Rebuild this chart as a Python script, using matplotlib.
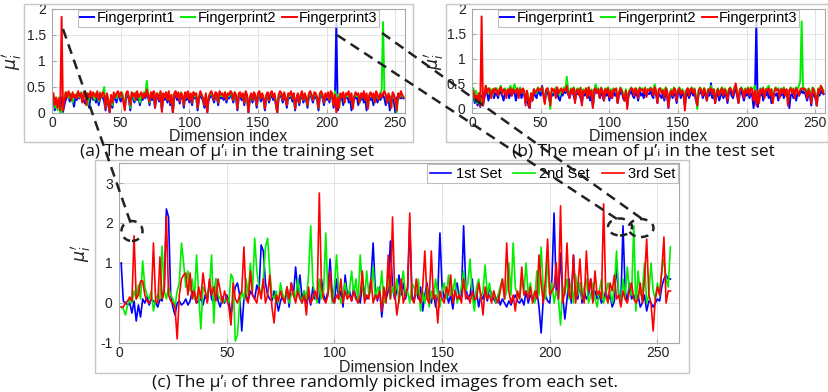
import matplotlib
matplotlib.use("Agg")
import matplotlib.pyplot as plt
import numpy as np
from matplotlib.lines import Line2D
from matplotlib.patches import Rectangle, Ellipse

# ---------------- data ----------------
train_fp1 = [0.30,0.05,0.20,0.12,0.25,0.08,0.30,0.02,0.15,0.25,0.35,0.30,0.22,0.35,0.28,0.12,
0.30,0.25,0.32,0.28,0.35,0.30,0.25,0.18,0.32,0.30,0.10,0.28,0.35,0.25,0.30,0.20,
0.32,0.15,0.28,0.35,0.30,0.22,0.05,0.30,0.15,0.00,0.25,0.10,0.30,0.28,0.20,0.35,
0.30,0.22,0.35,0.25,0.10,0.30,0.35,0.25,0.05,0.28,0.32,0.20,0.35,0.25,0.30,0.15,
0.30,0.25,0.35,0.28,0.40,0.30,0.15,0.32,0.25,0.35,0.10,0.28,0.30,0.22,0.35,0.05,
0.30,0.25,0.32,0.20,0.35,0.15,0.28,0.00,0.30,0.35,0.25,0.30,0.18,0.35,0.28,0.10,
0.32,0.25,0.35,0.20,0.30,0.15,0.35,0.28,0.30,0.05,0.25,0.35,0.30,0.22,0.10,0.30,
0.00,0.25,0.30,0.35,0.28,0.20,0.32,0.30,0.15,0.35,0.28,0.30,0.25,0.35,0.20,0.30,
0.28,0.35,0.30,0.20,0.35,0.28,0.05,0.30,0.32,0.25,0.30,0.15,0.35,0.28,0.00,0.25,
0.30,0.20,0.32,0.28,0.10,0.30,0.35,0.22,0.30,0.25,0.05,0.28,0.32,0.20,0.30,0.35,
0.25,0.30,0.15,0.00,0.28,0.35,0.30,0.20,0.32,0.25,0.10,0.30,0.28,0.35,0.22,0.30,
0.05,0.25,0.30,0.15,0.28,0.35,0.20,0.30,0.25,0.10,0.30,0.35,0.28,0.20,0.32,0.30,
0.25,0.05,0.30,0.35,0.28,0.15,0.30,0.25,0.32,0.20,0.35,0.30,0.10,0.28,1.72,0.05,
0.30,0.25,0.32,0.15,0.30,0.28,0.35,0.20,0.30,0.05,0.25,0.32,0.28,0.30,0.15,0.30,
0.25,0.35,0.20,0.30,0.05,0.28,0.32,0.25,0.30,0.15,0.35,0.28,0.20,0.30,0.25,0.30,
0.35,0.28,0.15,0.30,0.25,0.05,0.32,0.28,0.20,0.00,0.30,0.25,0.35,0.28,0.30,0.28]

train_fp2 = [0.35,0.10,0.25,0.05,0.30,0.00,0.02,0.20,0.30,0.40,0.35,0.28,0.38,0.32,0.20,0.35,
0.30,0.38,0.35,0.30,0.40,0.25,0.35,0.30,0.38,0.15,0.32,0.40,0.30,0.35,0.25,0.38,
0.35,0.22,0.40,0.30,0.38,0.50,0.10,0.35,0.20,0.05,0.30,0.15,0.35,0.32,0.28,0.40,
0.35,0.30,0.40,0.28,0.15,0.35,0.40,0.30,0.10,0.35,0.38,0.25,0.40,0.30,0.35,0.20,
0.35,0.30,0.40,0.35,0.62,0.35,0.20,0.38,0.30,0.40,0.15,0.35,0.38,0.28,0.40,0.10,
0.35,0.30,0.38,0.25,0.40,0.20,0.35,0.05,0.35,0.40,0.30,0.38,0.25,0.40,0.32,0.15,
0.38,0.30,0.40,0.28,0.35,0.20,0.40,0.32,0.35,0.10,0.30,0.40,0.35,0.28,0.15,0.35,
0.05,0.30,0.35,0.40,0.32,0.25,0.38,0.35,0.20,0.40,0.32,0.35,0.30,0.40,0.25,0.35,
0.32,0.42,0.35,0.25,0.40,0.32,0.10,0.35,0.38,0.30,0.35,0.20,0.40,0.32,0.05,0.30,
0.35,0.25,0.38,0.32,0.15,0.35,0.40,0.28,0.35,0.30,0.10,0.32,0.38,0.25,0.35,0.40,
0.30,0.35,0.20,0.02,0.32,0.40,0.35,0.25,0.38,0.30,0.15,0.35,0.32,0.40,0.28,0.35,
0.10,0.30,0.35,0.20,0.32,0.40,0.25,0.35,0.30,0.15,0.35,0.40,0.32,0.25,0.38,0.35,
0.30,0.10,0.35,0.40,0.32,0.20,0.35,0.30,0.38,0.25,0.40,0.35,0.15,0.42,0.10,0.35,
0.10,0.35,0.30,0.38,0.20,0.35,0.32,0.40,0.25,0.35,0.10,0.30,0.38,0.32,0.35,0.20,
0.35,0.30,0.40,0.25,0.35,0.10,0.32,0.38,0.30,0.35,0.20,0.40,0.32,0.25,0.35,0.45,
1.75,0.40,0.35,0.20,0.35,0.30,0.10,0.38,0.32,0.25,0.02,0.35,0.30,0.40,0.32,0.30]

train_fp3 = [0.38,0.15,0.30,0.10,0.28,0.05,1.85,0.05,0.22,0.40,0.30,0.42,0.35,0.25,0.40,0.30,
0.35,0.28,0.42,0.32,0.38,0.20,0.40,0.35,0.15,0.38,0.30,0.42,0.28,0.40,0.35,0.30,
0.42,0.25,0.38,0.30,0.40,0.35,0.08,0.38,0.25,0.02,0.35,0.20,0.40,0.30,0.38,0.42,
0.30,0.40,0.35,0.20,0.05,0.38,0.42,0.30,0.15,0.40,0.32,0.38,0.25,0.42,0.30,0.35,
0.40,0.28,0.38,0.30,0.45,0.35,0.22,0.40,0.30,0.42,0.10,0.38,0.35,0.25,0.42,0.02,
0.38,0.30,0.40,0.25,0.42,0.20,0.35,0.00,0.38,0.42,0.30,0.40,0.22,0.38,0.35,0.15,
0.40,0.30,0.42,0.25,0.38,0.20,0.40,0.35,0.38,0.10,0.30,0.42,0.35,0.28,0.15,0.38,
0.00,0.30,0.38,0.42,0.35,0.25,0.40,0.38,0.20,0.42,0.35,0.38,0.30,0.40,0.25,0.38,
0.35,0.42,0.38,0.25,0.40,0.35,0.08,0.38,0.40,0.30,0.38,0.20,0.42,0.35,0.02,0.30,
0.38,0.25,0.40,0.35,0.15,0.38,0.42,0.28,0.38,0.30,0.08,0.35,0.40,0.25,0.38,0.42,
0.30,0.38,0.20,0.00,0.35,0.42,0.38,0.25,0.40,0.30,0.15,0.38,0.35,0.42,0.28,0.38,
0.08,0.30,0.38,0.20,0.35,0.42,0.25,0.38,0.30,0.15,0.38,0.42,0.35,0.25,0.40,0.38,
0.30,0.10,0.38,0.42,0.35,0.20,0.38,0.30,0.40,0.25,0.42,0.38,0.15,0.35,0.00,0.30,
0.10,0.38,0.30,0.40,0.20,0.38,0.35,0.42,0.25,0.38,0.08,0.30,0.40,0.35,0.38,0.20,
0.38,0.30,0.42,0.25,0.38,0.08,0.35,0.40,0.30,0.38,0.20,0.42,0.35,0.25,0.38,0.30,
0.38,0.42,0.35,0.20,0.38,0.30,0.10,0.40,0.35,0.25,0.05,0.38,0.30,0.42,0.35,0.30]

test_fp1 = [0.25,0.10,0.30,0.05,0.20,0.02,0.25,0.05,0.20,0.35,0.30,0.15,0.30,0.25,0.35,0.20,
0.30,0.28,0.20,0.35,0.30,0.25,0.15,0.30,0.28,0.35,0.20,0.30,0.25,0.35,0.30,0.15,
0.30,0.25,0.35,0.20,0.30,0.28,0.10,0.30,0.05,0.00,0.25,0.15,0.30,0.25,0.20,0.35,
0.30,0.25,0.45,0.30,0.15,0.30,0.35,0.20,0.10,0.30,0.25,0.35,0.28,0.30,0.20,0.15,
0.30,0.25,0.35,0.30,0.40,0.28,0.20,0.30,0.35,0.25,0.15,0.30,0.28,0.35,0.20,0.10,
0.30,0.25,0.35,0.20,0.30,0.15,0.28,0.02,0.25,0.45,0.30,0.35,0.20,0.30,0.25,0.15,
0.30,0.25,0.35,0.15,0.30,0.20,0.35,0.25,0.30,0.10,0.25,0.30,0.35,0.20,0.15,0.30,
0.05,0.25,0.30,0.35,0.25,0.20,0.30,0.28,0.15,0.35,0.25,0.30,0.20,0.35,0.25,0.30,
0.28,0.35,0.25,0.20,0.45,0.28,0.10,0.30,0.25,0.20,0.30,0.15,0.30,0.25,0.00,0.25,
0.30,0.20,0.30,0.25,0.10,0.30,0.35,0.20,0.30,0.25,0.05,0.25,0.30,0.20,0.28,0.35,
0.25,0.30,0.15,0.05,0.28,0.30,0.35,0.20,0.30,0.25,0.15,0.30,0.25,0.50,0.20,0.30,
0.10,0.25,0.30,0.15,0.25,0.30,0.20,0.28,0.25,0.10,0.30,0.35,0.25,0.20,0.30,0.45,
0.25,0.10,0.30,0.35,0.25,0.15,0.30,0.25,0.35,0.20,0.30,0.25,0.00,0.25,1.72,0.02,
0.30,0.25,0.35,0.15,0.30,0.25,0.35,0.20,0.30,0.10,0.25,0.30,0.25,0.30,0.15,0.30,
0.25,0.35,0.20,0.30,0.25,0.30,0.00,0.25,0.30,0.20,0.25,0.15,0.30,0.25,0.30,0.35,
0.30,0.35,0.25,0.15,0.30,0.25,0.05,0.30,0.25,0.20,0.05,0.30,0.25,0.35,0.30,0.28]

test_fp2 = [0.40,0.15,0.35,0.10,0.30,0.05,0.20,0.10,0.30,0.45,0.35,0.30,0.40,0.35,0.25,0.40,
0.35,0.40,0.30,0.38,0.45,0.30,0.35,0.40,0.35,0.30,0.38,0.45,0.35,0.40,0.48,0.35,
0.40,0.30,0.42,0.35,0.38,0.30,0.15,0.35,0.20,0.05,0.30,0.20,0.38,0.35,0.30,0.42,
0.38,0.35,0.42,0.30,0.10,0.35,0.40,0.30,-0.02,0.35,0.38,0.30,0.42,0.35,0.38,0.25,
0.38,0.35,0.42,0.35,0.63,0.38,0.25,0.40,0.35,0.42,0.20,0.38,0.40,0.30,0.42,0.15,
0.38,0.32,0.40,0.30,0.42,0.25,0.38,0.05,0.35,0.48,0.35,0.40,0.30,0.42,0.35,0.20,
0.40,0.35,0.42,0.30,0.38,0.25,0.40,0.35,0.38,0.15,0.32,0.42,0.38,0.30,0.20,0.38,
0.05,0.32,0.38,0.42,0.35,0.30,0.40,0.38,0.25,0.42,0.38,0.40,0.35,0.42,0.30,0.38,
0.35,0.42,0.38,0.30,0.48,0.35,0.15,0.38,0.40,0.35,0.38,0.25,0.42,0.38,0.05,0.30,
0.38,0.30,0.42,0.35,0.20,0.38,0.42,0.30,0.38,0.35,0.10,0.35,0.40,0.30,0.38,0.42,
0.35,0.40,0.25,-0.02,0.35,0.42,0.38,0.30,0.40,0.35,0.20,0.38,0.35,0.45,0.30,0.38,
0.15,0.35,0.40,0.25,0.38,0.42,0.30,0.40,0.35,0.20,0.38,0.42,0.35,0.30,0.40,0.45,
0.35,0.15,0.38,0.42,0.38,0.25,0.40,0.35,0.42,0.30,0.42,0.38,0.40,0.45,0.10,0.30,
0.15,0.40,0.35,0.42,0.25,0.38,0.40,0.45,0.30,0.38,0.15,0.35,0.42,0.38,0.40,0.25,
0.40,0.35,0.42,0.30,0.38,0.10,0.35,0.42,0.35,0.40,0.25,0.42,0.38,0.45,0.55,1.75,
0.40,0.35,0.38,0.25,0.40,0.35,0.15,0.42,0.38,0.30,0.05,0.40,0.35,0.45,0.40,0.35]

test_fp3 = [0.35,0.20,0.25,0.15,0.30,0.05,1.85,0.05,0.25,0.45,0.30,0.40,0.35,0.20,0.38,0.30,
0.40,0.35,0.25,0.38,0.42,0.28,0.38,0.35,0.20,0.38,0.30,0.40,0.25,0.38,0.35,0.30,
0.40,0.20,0.38,0.30,0.40,0.35,0.05,0.35,0.20,0.00,0.30,0.15,0.38,0.30,0.35,0.40,
0.35,0.38,0.42,0.25,0.08,0.38,0.40,0.30,0.05,0.40,0.35,0.38,0.20,0.42,0.30,0.35,
0.40,0.30,0.38,0.35,0.45,0.30,0.20,0.38,0.30,0.40,0.10,0.35,0.38,0.25,0.40,0.05,
0.35,0.30,0.40,0.20,0.42,0.25,0.35,0.00,0.38,0.40,0.30,0.38,0.20,0.40,0.35,0.15,
0.38,0.30,0.40,0.22,0.35,0.20,0.38,0.35,0.40,0.10,0.30,0.40,0.35,0.25,0.15,0.35,
-0.02,0.30,0.35,0.40,0.38,0.25,0.40,0.35,0.20,0.40,0.35,0.38,0.30,0.40,0.22,0.38,
0.35,0.40,0.38,0.25,0.42,0.35,0.10,0.38,0.40,0.30,0.35,0.20,0.40,0.35,0.02,0.30,
0.35,0.25,0.40,0.38,0.15,0.35,0.40,0.28,0.35,0.30,-0.05,0.35,0.40,0.25,0.38,0.40,
0.30,0.38,0.20,0.05,0.35,0.40,0.35,0.25,0.40,0.30,0.15,0.38,0.35,0.40,0.28,0.38,
0.10,0.30,0.38,0.25,0.35,0.40,0.25,0.38,0.30,0.15,0.38,0.40,0.35,0.25,0.40,0.50,
0.30,0.10,0.38,0.40,0.35,0.20,0.38,0.30,0.40,0.25,0.40,0.38,0.15,0.35,0.05,0.35,
0.10,0.38,0.30,0.40,0.20,0.38,0.35,0.40,0.25,0.38,0.10,0.30,0.40,0.35,0.38,0.20,
0.38,0.30,0.40,0.25,0.38,0.05,0.35,0.40,0.30,0.38,0.20,0.40,0.35,0.25,0.38,0.40,
0.38,0.40,0.35,0.20,0.38,0.30,0.10,0.40,0.35,0.25,0.05,0.38,0.30,0.45,0.38,0.30]

set1 = [1.00,0.05,0.00,-0.05,0.00,-0.25,0.05,-0.45,-0.05,-0.35,0.10,0.00,0.15,-0.05,0.10,0.05,
0.00,-0.10,0.10,0.05,0.40,2.35,2.15,0.20,-0.10,-0.30,0.00,0.05,-0.05,0.00,0.10,-0.05,
0.05,0.30,0.15,0.00,0.05,0.10,-0.05,0.20,0.05,0.55,0.10,0.00,0.60,0.05,-0.10,0.15,
0.00,0.20,0.05,-0.30,0.10,0.40,0.50,0.20,-0.70,0.10,0.20,0.05,0.30,0.20,0.10,0.45,
0.30,1.45,1.30,0.50,0.20,0.10,0.05,0.30,0.10,-0.20,0.05,0.20,0.00,0.40,-0.10,0.50,
0.20,0.90,0.30,0.70,0.10,0.30,0.00,0.20,-0.05,0.40,0.10,0.20,0.00,0.60,0.20,0.05,
0.30,1.10,0.20,0.00,0.60,0.10,0.30,-0.10,0.70,0.20,0.30,0.05,0.40,0.10,0.20,0.00,
0.50,0.30,0.10,0.20,0.60,1.50,0.30,0.05,0.40,-0.35,0.20,0.10,0.30,1.55,0.40,0.10,
0.30,0.70,0.20,0.50,0.10,0.35,2.00,0.20,0.05,0.30,0.10,0.40,-0.20,0.20,0.50,0.10,
0.00,0.30,-0.10,0.20,1.75,0.40,0.10,0.30,0.00,0.20,-0.15,0.30,0.50,0.10,0.20,1.93,
0.40,0.10,0.20,0.60,0.00,0.30,-0.10,0.20,0.10,0.30,0.05,0.40,0.20,0.10,0.00,0.20,
-0.05,0.10,0.00,-0.10,0.05,-0.05,0.10,0.20,0.05,0.00,0.10,-0.05,0.30,0.00,0.20,0.10,
0.05,0.30,-0.10,-0.75,0.10,0.20,0.05,0.00,0.60,2.25,0.30,0.10,1.25,0.20,-0.40,0.10,
0.60,0.00,1.20,0.20,0.10,0.50,0.00,0.30,0.10,0.20,0.60,0.05,0.30,0.10,0.20,0.00,
0.10,0.30,0.05,0.20,-0.10,0.05,1.00,0.20,0.00,1.93,0.30,0.05,0.50,0.10,0.20,0.05,
0.20,-0.10,0.00,0.20,-0.20,0.05,0.00,-0.10,0.00,0.10,0.05,0.40,0.60,0.70,0.60,0.60]

set2 = [-0.10,-0.15,-0.30,-0.05,0.10,0.00,0.30,0.10,0.45,0.10,1.05,0.40,0.20,0.10,0.30,-0.20,
0.10,0.20,0.10,1.42,0.30,0.10,0.40,0.20,0.10,-0.10,0.30,0.50,1.50,1.00,0.40,0.80,
0.30,0.60,0.10,1.20,0.20,-0.65,0.40,0.30,0.10,0.40,1.20,-0.50,0.60,0.20,0.10,0.00,
0.05,0.10,0.00,0.72,0.60,-0.95,-0.80,0.00,0.30,0.10,0.60,0.20,1.00,0.30,1.62,0.80,
0.40,0.20,0.60,1.40,1.62,0.80,0.20,0.10,0.30,0.00,0.50,0.20,0.10,0.40,0.00,0.20,
0.30,0.10,0.60,0.20,0.00,0.30,0.10,0.70,1.93,0.50,0.20,0.00,0.60,0.10,0.30,1.75,
0.20,0.60,0.00,0.40,1.20,0.30,0.00,0.20,0.50,0.10,0.30,0.80,0.20,0.60,0.00,1.20,
0.40,0.10,0.80,0.20,0.30,0.90,0.10,0.40,0.20,0.80,0.00,0.30,0.60,0.10,0.40,0.20,
0.60,0.00,0.40,0.80,0.20,0.30,0.00,0.50,0.40,0.20,0.60,-0.20,0.30,0.00,0.40,-0.10,
0.30,0.10,0.60,0.20,-0.10,0.30,0.50,0.10,0.70,0.20,0.30,0.60,0.00,0.20,0.40,0.80,
0.30,0.50,1.10,0.20,-0.20,0.40,0.60,0.10,0.30,0.95,0.20,0.50,0.10,0.30,0.00,0.20,
0.40,0.60,0.10,0.30,1.00,0.20,1.50,0.40,0.20,0.10,0.60,0.30,1.00,0.20,0.50,0.10,
0.00,0.80,0.20,1.40,0.30,0.10,1.10,0.20,0.50,0.00,0.30,0.10,-0.55,0.40,0.20,0.60,
0.10,0.50,0.00,0.70,0.20,0.50,0.10,0.40,0.60,0.00,0.20,0.50,0.10,-0.10,0.30,0.60,
0.00,0.20,0.50,0.30,0.00,0.40,1.30,0.20,0.00,0.60,0.10,0.90,0.30,0.20,1.93,-0.20,
0.80,0.20,0.30,1.00,0.00,0.20,1.00,0.30,0.10,0.50,0.20,0.80,1.10,0.60,0.40,1.40]

set3 = [-0.10,-0.10,0.00,0.05,0.15,0.05,1.68,0.10,0.20,0.55,0.55,0.20,0.05,0.00,0.10,1.50,
0.05,0.00,1.15,0.10,0.30,2.17,0.20,0.05,0.00,-0.10,-0.90,0.20,0.60,0.70,0.75,0.20,
0.75,0.10,0.30,0.00,0.40,0.10,0.75,0.30,0.00,0.60,0.20,0.40,0.05,0.60,0.30,0.00,
0.30,0.10,-0.10,-0.55,0.50,0.10,0.00,0.20,0.30,1.40,0.10,0.00,0.80,0.20,0.10,0.00,
0.40,0.10,0.60,0.00,0.20,0.70,-0.10,-0.50,0.20,0.05,0.30,0.10,0.00,0.40,0.10,0.50,
0.20,0.00,0.30,0.10,0.00,0.20,-0.30,0.40,0.00,0.10,0.30,0.10,2.75,0.40,0.10,0.00,
0.20,0.80,0.10,0.00,0.20,0.10,0.60,0.00,0.30,0.10,0.20,0.05,0.30,0.10,0.00,0.20,
0.80,0.00,0.20,0.10,0.60,0.00,0.20,0.10,0.30,-0.20,0.40,0.00,1.20,0.10,2.15,0.30,
-0.30,0.10,0.60,0.00,0.20,0.40,2.25,0.10,0.00,0.60,0.20,0.00,0.40,1.30,0.10,0.00,
1.30,0.10,0.20,-0.50,0.30,0.10,0.00,0.40,0.20,0.70,0.00,0.30,0.10,0.20,0.00,0.60,
0.10,0.20,0.00,0.30,0.10,0.10,0.50,0.20,-0.30,0.40,0.10,0.20,0.00,0.30,0.10,0.00,
0.30,0.60,0.10,1.50,0.30,0.00,0.20,-0.20,0.30,0.10,0.90,0.20,0.30,0.10,0.40,0.00,
0.30,0.10,1.20,0.50,0.00,0.60,1.60,0.20,0.30,0.40,1.00,0.10,2.43,0.00,0.30,1.50,
0.20,0.10,1.20,0.00,0.40,1.10,0.20,0.00,1.30,0.30,0.60,0.00,0.80,0.20,0.30,0.10,
2.48,0.20,0.00,0.50,0.30,0.70,0.10,0.20,-0.10,0.30,0.10,0.00,0.30,0.50,0.10,0.00,
0.10,0.50,0.00,0.60,1.60,0.20,0.00,-0.70,0.10,0.40,0.20,0.80,1.65,0.00,0.30,0.30]

fp_labels = ["Fingerprint1", "Fingerprint2", "Fingerprint3"]
set_labels = ["1st Set", "2nd Set", "3rd Set"]
colors = ["#0000ff", "#00ee00", "#ff0000"]
xticks = [0, 50, 100, 150, 200, 250]

# ---------------- figure ----------------
plt.rcParams["font.family"] = ["Liberation Sans", "DejaVu Sans"]
plt.rcParams["axes.unicode_minus"] = False
W, H = 829, 392
fig = plt.figure(figsize=(W / 100, H / 100), dpi=100)
CAP_FONT = ["Open Sans", "DejaVu Sans"]
TXT = "#222222"


def px_rect(l, t, r, b):
    return [l / W, 1 - b / H, (r - l) / W, (b - t) / H]


def fx(x):
    return x / W


def fy(y):
    return 1 - y / H


def style_axes(ax):
    ax.grid(True, color="#e3e3e3", linewidth=0.7)
    ax.set_axisbelow(True)
    for s in ax.spines.values():
        s.set_color("#a8a8a8")
        s.set_linewidth(0.8)
    ax.tick_params(direction="in", length=3, color="#a8a8a8", labelsize=10,
                   labelcolor=TXT)
    ax.tick_params(axis="x", pad=2)
    ax.tick_params(axis="y", pad=4.5)


# frames (image borders)
for (l, t, r, b) in [(24, 4, 413, 142), (446, 4, 828, 142), (95, 160, 689, 373)]:
    fig.add_artist(Rectangle((fx(l), fy(b)), (r - l) / W, (b - t) / H,
                             transform=fig.transFigure, fill=False,
                             edgecolor="#c6c6c6", linewidth=1.0))

panels = [
    (px_rect(52, 9, 405, 113), [train_fp1, train_fp2, train_fp3], (0, 2), -0.08),
    (px_rect(472, 9, 825, 113), [test_fp1, test_fp2, test_fp3], (-0.1, 2), -0.074),
]
for rect, series, ylim, ylab_x in panels:
    ax = fig.add_axes(rect)
    for ys, c, lab in zip(series, colors, fp_labels):
        x = np.arange(1, len(ys) + 1)
        ax.plot(x, ys, color=c, linewidth=1.4, label=lab)
    ax.set_xlim(0, 257)
    ax.set_ylim(*ylim)
    ax.set_xticks(xticks)
    ax.set_yticks([0, 0.5, 1, 1.5, 2])
    ax.set_yticklabels(["0", "0.5", "1", "1.5", "2"])
    style_axes(ax)
    ax.set_xlabel("Dimension index", fontsize=11.5, color=TXT)
    ax.xaxis.set_label_coords(0.5, -0.15)
    ax.set_ylabel(r"$\mu_i^{\prime}$", fontsize=12.5, color=TXT)
    ax.yaxis.set_label_coords(ylab_x, 0.5)
    leg = ax.legend(loc="upper center", ncol=3, frameon=True,
                    handlelength=1.0, handletextpad=0.15, columnspacing=0.4,
                    borderpad=0.1, borderaxespad=0.05, fancybox=False,
                    prop={"size": 10.5})
    leg.get_frame().set_edgecolor("#b0b0b0")
    leg.get_frame().set_linewidth(0.8)

axc = fig.add_axes(px_rect(119, 163, 679, 343))
for ys, c, lab in zip([set1, set2, set3], colors, set_labels):
    x = np.arange(1, len(ys) + 1)
    axc.plot(x, ys, color=c, linewidth=1.2, label=lab)
axc.set_xlim(0, 260)
axc.set_ylim(-1, 3.5)
axc.set_xticks(xticks)
axc.set_yticks([-1, 0, 1, 2, 3])
style_axes(axc)
axc.set_xlabel("Dimension Index", fontsize=11.5, color=TXT)
axc.xaxis.set_label_coords(0.5, -0.095)
axc.set_ylabel(r"$\mu_i^{\prime}$", fontsize=12.5, color=TXT)
axc.yaxis.set_label_coords(-0.047, 0.5)
legc = axc.legend(loc="upper right", ncol=3, frameon=True, handlelength=1.5,
                  handletextpad=0.3, columnspacing=0.8, borderpad=0.15,
                  borderaxespad=0.1, fancybox=False, prop={"size": 10.5})
legc.get_frame().set_edgecolor("#b0b0b0")
legc.get_frame().set_linewidth(0.8)

# captions
fig.text(fx(227), fy(152), "(a) The mean of μ’ᵢ in the training set", ha="center",
         va="center", fontsize=12.5, family=CAP_FONT, color="#111111")
fig.text(fx(643), fy(152), "(b) The mean of μ’ᵢ in the test set", ha="center",
         va="center", fontsize=12.5, family=CAP_FONT, color="#111111")
fig.text(fx(385), fy(383), "(c) The μ’ᵢ of three randomly picked images from each set.",
         ha="center", va="center", fontsize=12.5, family=CAP_FONT, color="#111111")

# dashed connectors and ellipses
dash = dict(color="#222222", linewidth=1.8, linestyle=(0, (4, 2.5)),
            transform=fig.transFigure)
for (x0, y0, x1, y1) in [(63, 29, 131, 224), (337, 35, 617, 219), (382, 33, 645, 221)]:
    fig.add_artist(Line2D([fx(x0), fx(x1)], [fy(y0), fy(y1)], **dash))
for (cx, cy, w, h) in [(132, 231, 21, 20), (620, 227, 24, 17), (641, 228, 25, 18)]:
    fig.add_artist(Ellipse((fx(cx), fy(cy)), w / W, h / H, transform=fig.transFigure,
                           fill=False, edgecolor="#222222", linewidth=1.8,
                           linestyle=(0, (3, 2.5))))

fig.savefig("out.png", dpi=100)
